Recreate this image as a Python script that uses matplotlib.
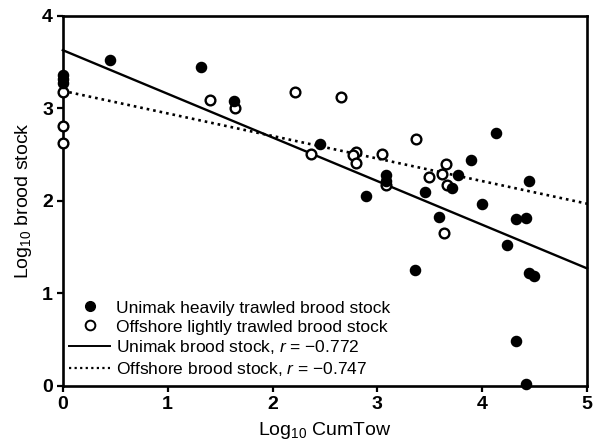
import matplotlib
matplotlib.use("Agg")
import matplotlib.pyplot as plt
from matplotlib.lines import Line2D
import numpy as np

plt.rcParams['font.family'] = ['Liberation Sans', 'DejaVu Sans']
plt.rcParams['mathtext.fontset'] = 'custom'
plt.rcParams['mathtext.rm'] = 'Liberation Sans'
plt.rcParams['mathtext.it'] = 'Liberation Sans:italic'

# Unimak heavily trawled brood stock (filled)
unimak_x = [0.0, 0.0, 0.0, 0.45, 1.32, 1.63, 2.45, 4.13, 3.89, 3.77, 4.45, 3.08, 3.08,
            2.89, 3.45, 3.71, 4.00, 3.59, 4.32, 4.42, 4.24, 3.36, 4.45, 4.49, 4.32, 4.42]
unimak_y = [3.36, 3.32, 3.28, 3.52, 3.45, 3.08, 2.62, 2.73, 2.44, 2.28, 2.21, 2.28, 2.21,
            2.05, 2.10, 2.14, 1.97, 1.83, 1.80, 1.82, 1.52, 1.25, 1.22, 1.19, 0.49, 0.02]

# Offshore lightly trawled brood stock (open)
offshore_x = [0.0, 0.0, 0.0, 1.40, 1.64, 2.21, 2.37, 2.65, 2.80, 2.77, 2.80, 3.04, 3.37,
              3.65, 3.49, 3.62, 3.66, 3.08, 3.64]
offshore_y = [3.18, 2.81, 2.63, 3.09, 3.00, 3.18, 2.51, 3.12, 2.53, 2.50, 2.41, 2.51, 2.67,
              2.40, 2.26, 2.29, 2.17, 2.17, 1.65]

# Regression lines: intercept, slope
unimak_fit = [3.63, -0.472]
offshore_fit = [3.19, -0.244]
unimak_r = -0.772
offshore_r = -0.747

fig = plt.figure(figsize=(6.04, 4.43), dpi=100)
ax = fig.add_axes([0.104, 0.129, 0.868, 0.835])

xl = np.array([0, 5])
ax.plot(xl, unimak_fit[0] + unimak_fit[1] * xl, color='black', lw=1.7, clip_on=False)
ax.plot(xl, offshore_fit[0] + offshore_fit[1] * xl, color='black', lw=1.9,
        linestyle=(0, (1, 1.5)), clip_on=False)

ax.plot(offshore_x, offshore_y, 'o', ms=7, mfc='white', mec='black', mew=1.7,
        clip_on=False, zorder=3)
ax.plot(unimak_x, unimak_y, 'o', ms=7.3, mfc='black', mec='black', clip_on=False, zorder=4)

ax.set_xlim(0, 5)
ax.set_ylim(0, 4)
ax.set_xticks([0, 1, 2, 3, 4, 5])
ax.set_yticks([0, 1, 2, 3, 4])
for s in ax.spines.values():
    s.set_linewidth(1.9)
ax.tick_params(direction='out', length=4, width=1.6, labelsize=14, pad=3)
for lab in ax.get_xticklabels() + ax.get_yticklabels():
    lab.set_fontweight('bold')

ax.set_xlabel('Log$_{10}$ CumTow', fontsize=14, labelpad=5)
ax.set_ylabel('Log$_{10}$ brood stock', fontsize=14, labelpad=6)

handles = [
    Line2D([], [], marker='o', ls='', ms=7, mfc='black', mec='black'),
    Line2D([], [], marker='o', ls='', ms=7, mfc='white', mec='black', mew=1.4),
    Line2D([], [], color='black', lw=1.4),
    Line2D([], [], color='black', lw=1.6, linestyle=(0, (1, 1.5))),
]
labels = [
    'Unimak heavily trawled brood stock',
    'Offshore lightly trawled brood stock',
    'Unimak brood stock, $r$ = \u22120.772',
    'Offshore brood stock, $r$ = \u22120.747',
]
ax.legend(handles, labels, loc='lower left', bbox_to_anchor=(-0.012, -0.012),
          frameon=False, fontsize=12.5, handlelength=2.4, handletextpad=0.3,
          labelspacing=0.22, borderaxespad=0.3)

fig.savefig('out.png', dpi=100)
